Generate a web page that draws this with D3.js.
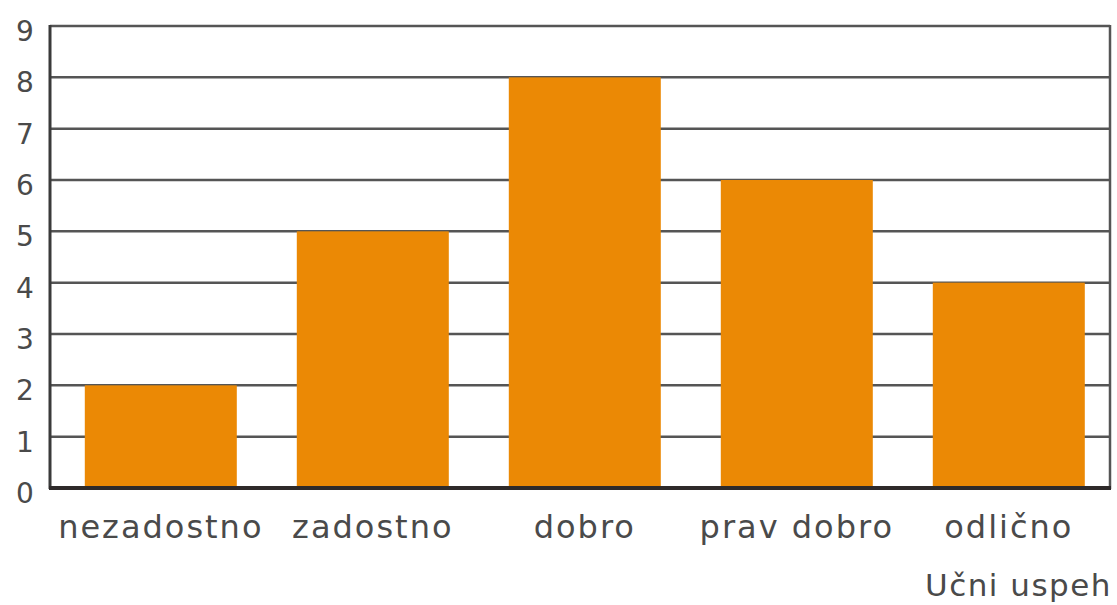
<!DOCTYPE html>
<html>
<head>
<meta charset="utf-8">
<script src="https://cdn.jsdelivr.net/npm/d3@7"></script>
<style>
  body { margin: 0; background: #fff; }
  svg text { font-family: "DejaVu Sans", sans-serif; fill: #4a4a4a; }
</style>
</head>
<body>
<script>
var categories = ['nezadostno', 'zadostno', 'dobro', 'prav dobro', 'odlično'];
var counts = [2, 5, 8, 6, 4];
var yTicks = [0, 1, 2, 3, 4, 5, 6, 7, 8, 9];
var axisTitle = 'Učni uspeh';

var settings = {
  width: 1117,
  height: 605,
  left: 50,
  right: 1110,
  top: 26,
  bottom: 488
};

var svg = d3.select('body').append('svg')
  .attr('width', settings.width)
  .attr('height', settings.height);

var x = d3.scaleBand()
  .domain(categories)
  .range([settings.left, settings.right])
  .paddingInner(0.283)
  .paddingOuter(0.1415)
  .align(0.58);

var y = d3.scaleLinear()
  .domain([0, 9])
  .range([settings.bottom, settings.top]);

// horizontal grid lines
svg.append('g').selectAll('line').data(yTicks)
  .enter().append('line')
    .attr('x1', settings.left)
    .attr('x2', settings.right)
    .attr('y1', function(d){return y(d);})
    .attr('y2', function(d){return y(d);})
    .style('stroke', '#555')
    .style('stroke-width', 2.5);

// bars
svg.append('g').selectAll('rect').data(counts)
  .enter().append('rect')
    .attr('x', function(d, i){return x(categories[i]);})
    .attr('y', function(d){return y(d);})
    .attr('width', x.bandwidth())
    .attr('height', function(d){return y(0) - y(d);})
    .style('fill', '#EB8905');

// frame: left axis, right border, base line
svg.append('line')
  .attr('x1', settings.left).attr('x2', settings.left)
  .attr('y1', settings.top - 1).attr('y2', settings.bottom + 1)
  .style('stroke', '#3a3a3a').style('stroke-width', 3);

svg.append('line')
  .attr('x1', settings.right).attr('x2', settings.right)
  .attr('y1', settings.top - 1).attr('y2', settings.bottom + 1)
  .style('stroke', '#555').style('stroke-width', 2.5);

svg.append('line')
  .attr('x1', settings.left - 1).attr('x2', settings.right + 1)
  .attr('y1', settings.bottom).attr('y2', settings.bottom)
  .style('stroke', '#2e2a2a').style('stroke-width', 4);

// y tick labels
svg.append('g').selectAll('text').data(yTicks)
  .enter().append('text')
    .attr('x', 25)
    .attr('y', function(d){return y(d) + 15;})
    .attr('text-anchor', 'middle')
    .style('font-size', '28px')
    .text(function(d){return d;});

// category labels
svg.append('g').selectAll('text').data(categories)
  .enter().append('text')
    .attr('x', function(d){return x(d) + x.bandwidth() / 2;})
    .attr('y', 538)
    .attr('text-anchor', 'middle')
    .style('font-size', '32px')
    .style('letter-spacing', '2px')
    .text(function(d){return d;});

svg.append('text')
  .attr('x', 1112)
  .attr('y', 596)
  .attr('text-anchor', 'end')
  .style('font-size', '31px')
  .style('letter-spacing', '1.5px')
  .text(axisTitle);
</script>
</body>
</html>
